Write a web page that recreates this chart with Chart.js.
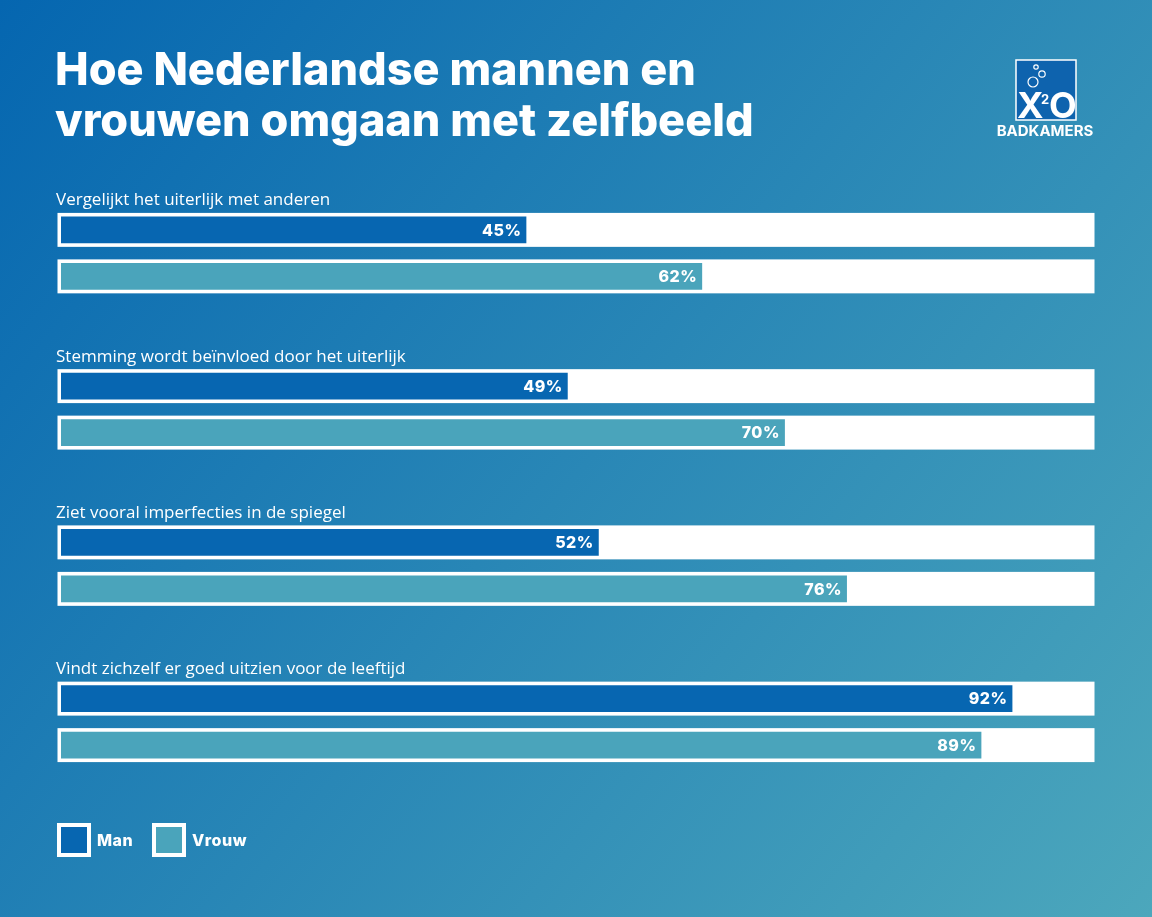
<!DOCTYPE html>
<html>
<head>
<meta charset="utf-8">
<script src="https://cdn.jsdelivr.net/npm/chart.js@4.4.1/dist/chart.umd.min.js"></script>
<style>
  html, body { margin: 0; padding: 0; background: #0766b1; }
  #wrap { width: 1152px; height: 917px; position: relative; }
</style>
</head>
<body>
<div id="wrap"><canvas id="chart"></canvas></div>
<script>
/* Gegevens */
const categories = [
  'Vergelijkt het uiterlijk met anderen',
  'Stemming wordt beïnvloed door het uiterlijk',
  'Ziet vooral imperfecties in de spiegel',
  'Vindt zichzelf er goed uitzien voor de leeftijd'
];
const manValues = [45, 49, 52, 92];
const vrouwValues = [62, 70, 76, 89];
const seriesNames = ['Man', 'Vrouw'];
const titleLines = ['Hoe Nederlandse mannen en', 'vrouwen omgaan met zelfbeeld'];

const MAN = '#0766b1';
const VROUW = '#4aa4bb';
const FONT = '"Open Sans", sans-serif';

/* achtergrond, titel, logo */
const decor = {
  id: 'decor',
  beforeDraw(chart) {
    const ctx = chart.ctx, w = chart.width, h = chart.height;
    const g = ctx.createLinearGradient(0, 0, w, h);
    g.addColorStop(0, '#0566b0');
    g.addColorStop(1, '#4ca7bc');
    ctx.save();
    ctx.fillStyle = g;
    ctx.fillRect(0, 0, w, h);

    ctx.fillStyle = '#fff';
    ctx.font = '800 45px Inter, sans-serif';
    ctx.textBaseline = 'alphabetic';
    ctx.fillText(titleLines[0], 55, 85);
    ctx.fillText(titleLines[1], 55, 136);

    // logo
    ctx.fillStyle = '#0e63ae';
    ctx.fillRect(1016, 60, 60, 60);
    ctx.strokeStyle = '#fff';
    ctx.lineWidth = 1.5;
    ctx.strokeRect(1016, 60, 60, 60);
    ctx.lineWidth = 1.2;
    [[1036, 67, 2.2], [1042, 74, 3.2], [1033, 82, 5]].forEach(([x, y, r]) => {
      ctx.beginPath(); ctx.arc(x, y, r, 0, Math.PI * 2); ctx.stroke();
    });
    ctx.fillStyle = '#fff';
    ctx.font = '700 36px Inter, sans-serif';
    ctx.fillText('X', 1017, 118);
    ctx.font = '700 13px Inter, sans-serif';
    ctx.fillText('2', 1041, 104);
    ctx.font = '700 36px Inter, sans-serif';
    ctx.fillText('O', 1049, 118);
    ctx.font = '700 15px Inter, sans-serif';
    ctx.textAlign = 'center';
    ctx.fillText('BADKAMERS', 1045, 136);
    ctx.restore();
  },
  /* witte banen achter de balken */
  beforeDatasetsDraw(chart) {
    const ctx = chart.ctx, x = chart.scales.x, area = chart.chartArea;
    const x0 = x.getPixelForValue(0);
    ctx.save();
    ctx.fillStyle = '#fff';
    chart.data.datasets.forEach((ds, i) => {
      chart.getDatasetMeta(i).data.forEach(bar => {
        const half = bar.height / 2 + 3.5;
        ctx.fillRect(x0 - 3.5, bar.y - half, area.right - x0 + 7, half * 2);
      });
    });
    // categorie labels
    ctx.font = '500 17px ' + FONT;
    ctx.textBaseline = 'alphabetic';
    chart.getDatasetMeta(0).data.forEach((bar, i) => {
      ctx.fillText(categories[i], 56, bar.y - bar.height / 2 - 11);
    });
    ctx.restore();
  },
  afterDatasetsDraw(chart) {
    const ctx = chart.ctx;
    ctx.save();
    ctx.fillStyle = '#fff';
    ctx.font = '800 16px Inter, sans-serif';
    ctx.letterSpacing = '0.5px';
    ctx.textAlign = 'right';
    ctx.textBaseline = 'middle';
    chart.data.datasets.forEach((ds, i) => {
      chart.getDatasetMeta(i).data.forEach((bar, j) => {
        ctx.fillText(ds.data[j] + '%', bar.x - 5, bar.y + 1);
      });
    });
    // legenda
    let lx = 57;
    const ly = 823;
    chart.data.datasets.forEach(ds => {
      ctx.fillStyle = '#fff';
      ctx.fillRect(lx, ly, 34, 34);
      ctx.fillStyle = ds.backgroundColor;
      ctx.fillRect(lx + 4, ly + 4, 26, 26);
      ctx.fillStyle = '#fff';
      ctx.textAlign = 'left';
      ctx.fillText(ds.label, lx + 40, ly + 18);
      lx += 95;
    });
    ctx.restore();
  }
};

new Chart(document.getElementById('chart'), {
  type: 'bar',
  data: {
    labels: categories,
    datasets: [
      { label: seriesNames[0], data: manValues, backgroundColor: MAN },
      { label: seriesNames[1], data: vrouwValues, backgroundColor: VROUW }
    ]
  },
  options: {
    indexAxis: 'y',
    responsive: true,
    maintainAspectRatio: false,
    animation: false,
    layout: { padding: { left: 61, right: 61, top: 175, bottom: 117 } },
    datasets: { bar: { categoryPercentage: 0.595, barPercentage: 0.58 } },
    scales: {
      x: { display: false, min: 0, max: 99.6 },
      y: { display: false }
    },
    plugins: { legend: { display: false }, tooltip: { enabled: false } }
  },
  plugins: [decor]
});
</script>
</body>
</html>
